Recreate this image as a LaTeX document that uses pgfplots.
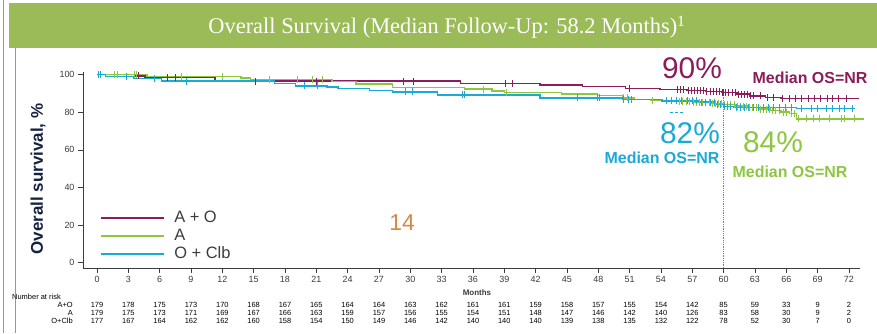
\documentclass[border=0pt]{standalone}
\usepackage{fontspec}
\setmainfont{Liberation Sans}
\newfontfamily\titlefont{Liberation Serif}
\usepackage{pgfplots}
\pgfplotsset{compat=1.18}
\definecolor{cAO}{RGB}{140,28,90}
\definecolor{cA}{RGB}{141,198,63}
\definecolor{cOC}{RGB}{27,169,214}
\definecolor{banner}{RGB}{155,187,89}
\definecolor{txtgray}{RGB}{60,60,60}
\definecolor{ylab}{RGB}{22,32,64}
\definecolor{slideorange}{RGB}{214,137,64}
\definecolor{sidered}{RGB}{226,120,120}
\begin{document}
\begin{tikzpicture}
\begin{scope}[x=1bp,y=-1bp]
\path[use as bounding box] (0,0) rectangle (877,333);
\fill[white] (0,0) rectangle (877,333);
\draw[sidered, line width=1bp] (3.5,0) -- (3.5,333);
\draw[sidered, line width=1bp] (15,48) -- (15,333);
\fill[banner] (9,3) rectangle (877,48);
\node[text=white, font=\titlefont\fontsize{22.5}{25}\selectfont, inner sep=0pt] at (447,27) {Overall Survival (Median Follow-Up: 58.2 Months)\textsuperscript{1}};
\end{scope}

\begin{axis}[
  at={(83bp,-268bp)}, anchor=south west,
  scale only axis, width=777bp, height=196bp,
  xmin=-1.34, xmax=73.06, ymin=-2.9, ymax=101.4,
  axis x line*=bottom, axis y line*=left,
  axis line style={-, line width=0.8bp, draw=txtgray},
  xtick={0,3,...,72}, ytick={0,20,...,100},
  tick align=outside, major tick length=5bp,
  tick style={line width=0.6bp, draw=txtgray},
  ticklabel style={font=\fontsize{9}{10}\selectfont, text=txtgray},
  /pgf/number format/assume math mode=true,
  clip=false,
  legend cell align=left,
  legend style={at={(0.021,0.303)}, anchor=north west, draw=none, fill=none,
    font=\fontsize{16.5}{18}\selectfont, text=txtgray, inner sep=0pt,
    nodes={text height=12bp, text depth=2bp, inner sep=2bp}, row sep=0bp},
  legend image code/.code={\draw[#1, line width=2bp] (0bp,0bp) -- (63bp,0bp); \path (71bp,0bp);},
]
% A + O
\addplot[cAO, line width=1.5bp, const plot] coordinates {
(0,100) (3.6,99.3) (4.6,98.5) (11.3,96.5) (34.8,95.4) (42.4,94.5) (46.5,93.6) (50.6,92.7)
(53.9,92.2) (56.5,91.5) (58.3,91.0) (59.8,90.4) (61.3,89.6) (62.5,88.7) (64.0,87.8) (65.5,87.2) (73.0,87.2)};
\addlegendentry{A + O}
% A
\addplot[cA, line width=1.5bp, const plot] coordinates {
(0,100) (4.8,99.0) (13.8,98.3) (14.7,97.4) (22.5,96.3) (24.8,95.0) (28.3,93.2) (35.2,92.3)
(37.8,91.4) (39.0,90.5) (44.5,89.6) (47.9,88.8) (50.3,87.7) (51.4,86.8) (53.0,86.2) (55.0,85.7)
(57.0,85.2) (58.7,84.6) (60.0,84.0) (61.2,83.2) (62.3,82.4) (63.4,81.6) (64.5,80.8) (65.5,80.0)
(66.3,79.4) (67.0,76.4) (73.4,76.4)};
\addlegendentry{A}
% O + Clb
\addplot[cOC, line width=1.5bp, const plot] coordinates {
(0,100) (0.8,98.9) (3.5,98.0) (6.2,96.5) (17.0,95.2) (19.0,94.0) (22.0,93.3) (23.1,92.5)
(26.1,91.6) (28.3,90.8) (32.6,89.2) (42.4,87.6) (50.3,86.9) (54.1,86.1) (57.7,85.4) (59.2,84.2)
(60.0,83.0) (61.0,82.6) (67.0,82.1) (72.6,82.1)};
\addlegendentry{O + Clb}

% censor marks
\addplot[cAO, only marks, mark=|, mark size=3.5bp, mark options={line width=0.9bp}, forget plot] coordinates {
(4.0,99.3) (6.7,98.5) (7.5,98.5) (15.2,96.5) (21.0,96.5) (29.3,96.5) (30.3,96.5) (39.1,95.4) (39.8,95.4) (51.0,92.7)
(55.6,92.2) (55.9,92.2) (56.2,92.2) (56.6,91.5) (56.9,91.5) (57.2,91.5) (57.5,91.5) (57.8,91.5) (58.1,91.5)
(58.4,91.0) (58.7,91.0) (59.0,91.0) (59.3,91.0) (59.6,91.0) (59.9,90.4) (60.0,90.4) (60.2,90.4) (60.5,90.4)
(60.8,90.4) (61.1,90.4) (61.4,89.6) (61.7,89.6) (62.0,89.6) (62.3,89.6) (62.6,88.7) (62.9,88.7) (63.5,88.7)
(64.2,87.8) (64.8,87.8) (65.6,87.2) (66.3,87.2) (66.9,87.2) (67.5,87.2) (68.1,87.2) (68.7,87.2) (69.3,87.2)
(69.9,87.2) (70.4,87.2) (71.0,87.2) (71.8,87.2)};
\addplot[cA, only marks, mark=|, mark size=3.5bp, mark options={line width=0.9bp}, forget plot] coordinates {
(1.7,100) (2.0,100) (3.6,100) (3.8,100) (8.1,99.0) (12.0,99.0) (16.5,97.4) (19.2,97.4) (20.6,97.4) (21.6,97.4)
(37.0,92.3) (39.2,90.5) (50.4,87.7) (50.8,87.7) (53.2,86.2)
(55.8,85.7) (56.1,85.7) (56.4,85.7) (56.7,85.7) (57.1,85.2) (57.4,85.2) (57.7,85.2) (58.0,85.2) (58.3,85.2)
(58.6,85.2) (58.9,84.6) (59.2,84.6) (59.5,84.6) (59.8,84.6) (60.1,84.0) (60.4,84.0) (60.7,84.0) (61.0,84.0)
(61.3,83.2) (61.6,83.2) (61.9,83.2) (62.2,83.2) (62.5,82.4) (62.8,82.4) (63.1,82.4) (63.5,81.6) (63.8,81.6)
(64.1,81.6) (64.4,81.6) (64.7,80.8) (65.0,80.8) (65.3,80.8) (65.7,80.0) (66.0,80.0) (66.5,79.4) (66.8,79.4)
(67.2,76.4) (67.9,76.4) (68.6,76.4) (69.2,76.4) (70.1,76.4) (71.3,76.4) (71.6,76.4) (72.5,76.4)};
\addplot[cOC, only marks, mark=|, mark size=3.5bp, mark options={line width=0.9bp}, forget plot] coordinates {
(0.1,100) (0.3,100) (2.8,98.9) (5.5,98.0) (8.6,96.5) (19.9,94.0) (21.1,94.0) (29.5,90.8) (30.2,90.8)
(35.0,89.2) (35.2,89.2) (46.0,87.6) (47.9,87.6) (48.1,87.6) (50.4,86.9) (50.9,86.9) (51.2,86.9)
(54.5,86.1) (55.0,86.1) (55.5,86.1) (56.0,86.1) (56.5,86.1) (57.0,86.1) (57.4,86.1) (57.9,85.4) (58.3,85.4)
(58.7,85.4) (59.1,85.4) (59.4,84.2) (59.7,84.2) (60.1,83.0) (60.4,83.0) (60.7,83.0) (61.2,82.6) (61.6,82.6)
(62.0,82.6) (62.4,82.6) (62.9,82.6) (63.3,82.6) (63.8,82.6) (64.3,82.6) (64.8,82.6) (65.3,82.6) (65.9,82.6)
(66.5,82.6) (67.5,82.1) (68.4,82.1) (69.0,82.1) (69.8,82.1) (70.4,82.1) (71.1,82.1) (71.6,82.1) (72.3,82.1)};

\draw[gray, densely dotted, line width=0.8bp] (axis cs:60,-2.9) -- (axis cs:60,90.2);
\end{axis}

\begin{scope}[x=1bp,y=-1bp]
\node[rotate=90, text=ylab, font=\bfseries\fontsize{17}{19}\selectfont] at (38,179) {Overall survival, \%};
\node[text=slideorange, font=\fontsize{23}{25}\selectfont] at (402,223) {14};
\node[text=cAO, font=\fontsize{30}{32}\selectfont] at (692,68) {90\%};
\node[text=cAO, font=\bfseries\fontsize{16}{18}\selectfont] at (810,78) {Median OS=NR};
\node[text=cOC, font=\fontsize{30}{32}\selectfont] at (690,133) {82\%};
\node[text=cOC, font=\bfseries\fontsize{16}{18}\selectfont] at (662,158) {Median OS=NR};
\node[text=cA, font=\fontsize{30}{32}\selectfont] at (773,142) {84\%};
\node[text=cA, font=\bfseries\fontsize{16}{18}\selectfont] at (790,172) {Median OS=NR};
\draw[cOC, densely dashed, line width=0.8bp] (670,112) -- (684,112);
\node[text=txtgray, font=\bfseries\fontsize{8}{9}\selectfont] at (477,293) {Months};
\node[anchor=west, text=black, font=\fontsize{7.5}{8}\selectfont, inner sep=0pt] at (12,297) {Number at risk};
\node[anchor=east, text=black, font=\fontsize{7.5}{8}\selectfont, inner sep=0pt] at (73,305) {A+O};
\node[anchor=east, text=black, font=\fontsize{7.5}{8}\selectfont, inner sep=0pt] at (73,313) {A};
\node[anchor=east, text=black, font=\fontsize{7.5}{8}\selectfont, inner sep=0pt] at (73,321) {O+Clb};
\foreach \m/\a/\b/\c in {0/179/179/177,3/178/175/167,6/175/173/164,9/173/171/162,12/170/169/162,15/168/167/160,18/167/166/158,21/165/163/154,24/164/159/150,27/164/157/149,30/163/156/146,33/162/155/142,36/161/154/140,39/161/151/140,42/159/148/140,45/158/147/139,48/157/146/138,51/155/142/135,54/154/140/132,57/142/126/122,60/85/83/78,63/59/58/52,66/33/30/30,69/9/9/7,72/2/2/0}{
  \node[text=black, font=\fontsize{7.5}{8}\selectfont, inner sep=0pt] at ({97+10.444*\m},305) {\a};
  \node[text=black, font=\fontsize{7.5}{8}\selectfont, inner sep=0pt] at ({97+10.444*\m},313) {\b};
  \node[text=black, font=\fontsize{7.5}{8}\selectfont, inner sep=0pt] at ({97+10.444*\m},321) {\c};
}
\end{scope}
\end{tikzpicture}
\end{document}
